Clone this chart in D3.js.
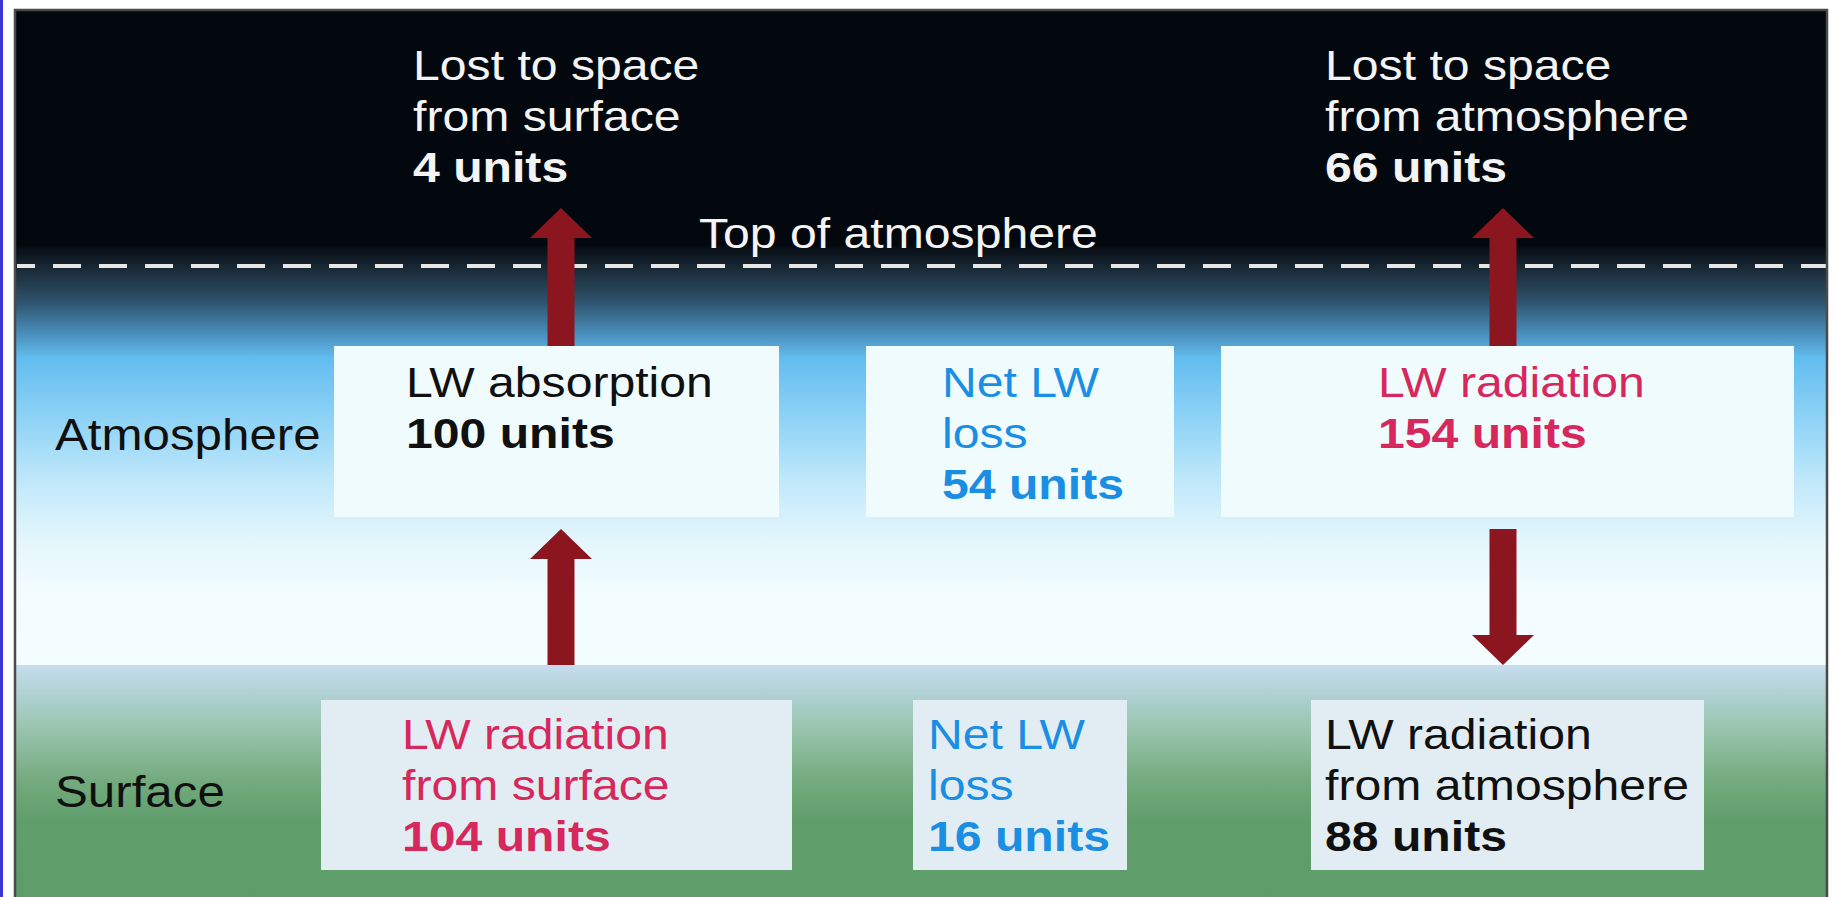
<!DOCTYPE html>
<html><head><meta charset="utf-8">
<script src="https://cdn.jsdelivr.net/npm/d3@7"></script>
<style>html,body{margin:0;padding:0;background:#fff;overflow:hidden} svg{display:block}</style>
</head><body><script>
// ---------- data ----------
const layers = ["Atmosphere", "Surface"];
const boundaryLabel = "Top of atmosphere";
const unitWord = "units";
const spaceLabels = [["Lost to space", "from surface"], ["Lost to space", "from atmosphere"]];
const spaceValues = [4, 66];
const atmLabels = [["LW absorption"], ["Net LW", "loss"], ["LW radiation"]];
const atmValues = [100, 54, 154];
const sfcLabels = [["LW radiation", "from surface"], ["Net LW", "loss"], ["LW radiation", "from atmosphere"]];
const sfcValues = [104, 16, 88];
const atmKinds = ["neutral", "net", "emit"];
const sfcKinds = ["emit", "net", "neutral"];
// arrows: [column, from-level, to-level]
const arrowLinks = [["left", "atmBoxTop", "spaceTip"], ["left", "surfaceTop", "atmArrowTip"],
                    ["right", "atmBoxTop", "spaceTip"], ["right", "atmArrowTip", "surfaceTop"]];

// ---------- layout ----------
const W = 1835, H = 897;
const frame = {x0: 15, y0: 10, x1: 1827, y1: 897};
const yLevel = d3.scaleOrdinal()
  .domain(["spaceTip", "darkEnd", "toa", "atmBoxTop", "atmBoxBottom", "atmArrowTip", "surfaceTop", "sfcBoxTop", "sfcBoxBottom"])
  .range([208, 246, 266, 346, 517, 529, 665, 700, 870]);
const arrowX = d3.scaleOrdinal().domain(["left", "right"]).range([561, 1503]);
const atmBoxX = [[334, 779], [866, 1174], [1221, 1794]];
const sfcBoxX = [[321, 792], [913, 1127], [1311, 1704]];
const atmTextX = [406, 942, 1378];
const sfcTextX = [402, 928, 1325];
const spaceTextX = [413, 1325];
const lineH = 51;
const fs = 43, sx = 1.12;
const kindColor = d3.scaleOrdinal().domain(["neutral", "net", "emit", "space"])
  .range(["#101010", "#1a8ee3", "#d6285c", "#f4f4f4"]);

const svg = d3.select("body").append("svg").attr("width", W).attr("height", H);
const defs = svg.append("defs");

function grad(id, y0, y1, stops) {
  const g = defs.append("linearGradient").attr("id", id)
    .attr("gradientUnits", "userSpaceOnUse").attr("x1", 0).attr("x2", 0).attr("y1", y0).attr("y2", y1);
  const s = d3.scaleLinear().domain([y0, y1]).range([0, 1]);
  stops.forEach(([y, c]) => g.append("stop").attr("offset", s(y)).attr("stop-color", c));
}
const yD = yLevel("darkEnd"), yS = yLevel("surfaceTop");
grad("atmG", yD, yS, [[246, "#050b12"], [268, "#1a2935"], [300, "#2d5069"], [330, "#4687b3"],
  [358, "#63bdf0"], [420, "#8fd3f6"], [480, "#bfe8fa"], [540, "#e3f6fc"], [590, "#f2fcff"], [665, "#f4fdff"]]);
grad("sfcG", yS, H, [[665, "#c6ddee"], [690, "#b2d3d6"], [730, "#98c4ad"], [780, "#74ab7e"], [820, "#609e6c"], [897, "#5e9c6a"]]);

// left blue edge
svg.append("rect").attr("x", 0).attr("y", 0).attr("width", 3).attr("height", H).attr("fill", "#3a36d6");

// backgrounds
svg.append("rect").attr("x", frame.x0).attr("y", frame.y0).attr("width", frame.x1 - frame.x0)
  .attr("height", yD - frame.y0).attr("fill", "#03080e");
svg.append("rect").attr("x", frame.x0).attr("y", yD).attr("width", frame.x1 - frame.x0)
  .attr("height", yS - yD).attr("fill", "url(#atmG)");
svg.append("rect").attr("x", frame.x0).attr("y", yS).attr("width", frame.x1 - frame.x0)
  .attr("height", H - yS).attr("fill", "url(#sfcG)");

// dashed top-of-atmosphere line
svg.append("line").attr("x1", frame.x0 + 2).attr("x2", frame.x1).attr("y1", yLevel("toa")).attr("y2", yLevel("toa"))
  .attr("stroke", "#e6e6e6").attr("stroke-width", 4).attr("stroke-dasharray", "28,18").attr("stroke-dashoffset", 10);

// boxes
const boxes = [
  ...atmBoxX.map(b => ({x0: b[0], x1: b[1], y0: yLevel("atmBoxTop"), y1: yLevel("atmBoxBottom"), fill: "#f0fbfd"})),
  ...sfcBoxX.map(b => ({x0: b[0], x1: b[1], y0: yLevel("sfcBoxTop"), y1: yLevel("sfcBoxBottom"), fill: "#e2edf3"}))
];
svg.selectAll("rect.box").data(boxes).join("rect").attr("class", "box")
  .attr("x", d => d.x0).attr("y", d => d.y0).attr("width", d => d.x1 - d.x0).attr("height", d => d.y1 - d.y0)
  .attr("fill", d => d.fill);

// arrows
const shaftHW = 13.5, headHW = 31, headLen = 30;
function arrowPath(x, yFrom, yTo) {
  const dir = yTo < yFrom ? -1 : 1;
  const yb = yTo - dir * headLen;
  const p = d3.path();
  p.moveTo(x - shaftHW, yFrom); p.lineTo(x - shaftHW, yb); p.lineTo(x - headHW, yb);
  p.lineTo(x, yTo); p.lineTo(x + headHW, yb); p.lineTo(x + shaftHW, yb); p.lineTo(x + shaftHW, yFrom);
  p.closePath();
  return p.toString();
}
svg.selectAll("path.arrow").data(arrowLinks).join("path").attr("class", "arrow")
  .attr("d", d => arrowPath(arrowX(d[0]), yLevel(d[1]), yLevel(d[2])))
  .attr("fill", "#8b1620");

// text blocks
function block(x, yBase, lines, value, color, size) {
  const g = svg.append("g").attr("transform", `translate(${x},${yBase}) scale(${sx},1)`)
    .attr("font-family", "'Liberation Sans', Arial, Helvetica, sans-serif").attr("font-size", size || fs)
    .attr("fill", color);
  const all = lines.map(t => ({t, bold: false}));
  if (value !== null) all.push({t: `${value} ${unitWord}`, bold: true});
  g.selectAll("text").data(all).join("text").attr("x", 0).attr("y", (d, i) => i * lineH)
    .attr("font-weight", d => d.bold ? "bold" : "normal").text(d => d.t);
}
spaceLabels.forEach((l, i) => block(spaceTextX[i], 80, l, spaceValues[i], kindColor("space")));
block(699, 248, [boundaryLabel], null, kindColor("space"));
atmLabels.forEach((l, i) => block(atmTextX[i], 397, l, atmValues[i], kindColor(atmKinds[i])));
sfcLabels.forEach((l, i) => block(sfcTextX[i], 749, l, sfcValues[i], kindColor(sfcKinds[i])));
block(55, 450, [layers[0]], null, "#101010", 44);
block(55, 807, [layers[1]], null, "#101010", 44);

// frame border
svg.append("path").attr("d", `M${frame.x0},${H} V${frame.y0} H${frame.x1} V${H}`)
  .attr("fill", "none").attr("stroke", "#4a4a4a").attr("stroke-width", 2.5);
</script></body></html>
